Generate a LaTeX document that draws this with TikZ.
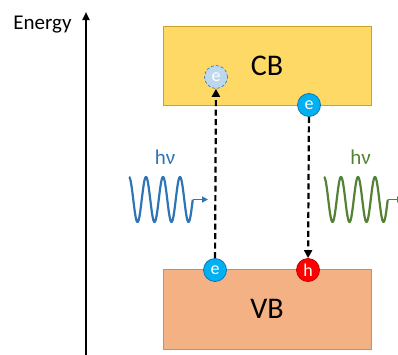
\documentclass[tikz,border=0pt]{standalone}
\usepackage{fontspec}
\setmainfont{Carlito}
\usepackage{xcolor}
\usepackage{tikz}
\usetikzlibrary{positioning, arrows.meta, calc}
\definecolor{cbyellow}{HTML}{FFD966}
\definecolor{cbborder}{HTML}{C9A227}
\definecolor{vborange}{HTML}{F4B183}
\definecolor{vbborder}{HTML}{E0864E}
\definecolor{elblue}{HTML}{00B0F0}
\definecolor{elborder}{HTML}{0A78B8}
\definecolor{elfaded}{HTML}{BDD7EE}
\definecolor{holered}{HTML}{FF0000}
\definecolor{holeborder}{HTML}{C00000}
\definecolor{waveblue}{HTML}{2E75B6}
\definecolor{wavegreen}{HTML}{548235}

\begin{document}
\begin{tikzpicture}[x=1pt, y=-1pt,
    band/.style={minimum width=208pt, minimum height=79pt, inner sep=0pt,
                 line width=1pt, font=\fontsize{30}{36}\selectfont},
    carrier/.style={circle, inner sep=0pt, minimum size=23pt, line width=0.8pt,
                    text=white, font=\fontsize{18}{20}\selectfont},
    transition/.style={line width=2.2pt, dash pattern=on 6pt off 3.5pt,
                       -{Triangle[width=8pt, length=8pt]}},
    photon/.style={line width=2.2pt, line join=round}]
  \useasboundingbox (0,0) rectangle (398,354);

  \coordinate (axis-bottom) at (86,358);
  \coordinate (axis-top) at (86,12);
  \draw[line width=2.5pt, -{Triangle[width=7pt, length=8pt]}] (axis-bottom) -- (axis-top);
  \node[anchor=base, font=\fontsize{21}{24}\selectfont] (energy) at (42.5,29) {Energy};

  \node[band, fill=cbyellow, draw=cbborder] (cb) at (267,65.5) {CB};
  \node[band, fill=vborange, draw=vbborder, minimum height=80pt] (vb) at (267,309) {VB};

  \node[carrier, fill=elfaded, draw=waveblue, densely dashed, line width=0.6pt] (e-excited) at (216,77) {e};
  \node[carrier, fill=elblue, draw=elborder] (e-cb) at (309,105) {e};
  \node[carrier, fill=elblue, draw=elborder] (e-vb) at (215,270) {e};
  \node[carrier, fill=holered, draw=holeborder] (h-vb) at (308,270) {h};

  \draw[transition] (e-vb) -- (e-excited);
  \draw[transition] (e-cb) -- (h-vb);

  \draw[photon, waveblue] plot[domain=0:3.75, samples=150, smooth]
    ({129+17*\x}, {199.5-22.5*cos(360*\x)});
  \coordinate (wave-left) at (192.75,199.5);
  \coordinate (wave-left-tip) at (208,199.5);
  \draw[line width=1.6pt, waveblue, -{Triangle[width=6pt, length=6pt]}] (wave-left) -- (wave-left-tip);
  \node[anchor=base, text=waveblue, font=\fontsize{21}{24}\selectfont] (hv-left) at (165,164) {hν};

  \draw[photon, wavegreen] plot[domain=0:3.75, samples=150, smooth]
    ({324+17*\x}, {199.5-22.5*cos(360*\x)});
  \coordinate (wave-right) at (387.75,199.5);
  \coordinate (wave-right-tip) at (403,199.5);
  \draw[line width=1.6pt, wavegreen, -{Triangle[width=6pt, length=6pt]}] (wave-right) -- (wave-right-tip);
  \node[anchor=base, text=wavegreen, font=\fontsize{21}{24}\selectfont] (hv-right) at (360.5,164) {hν};
\end{tikzpicture}
\end{document}
